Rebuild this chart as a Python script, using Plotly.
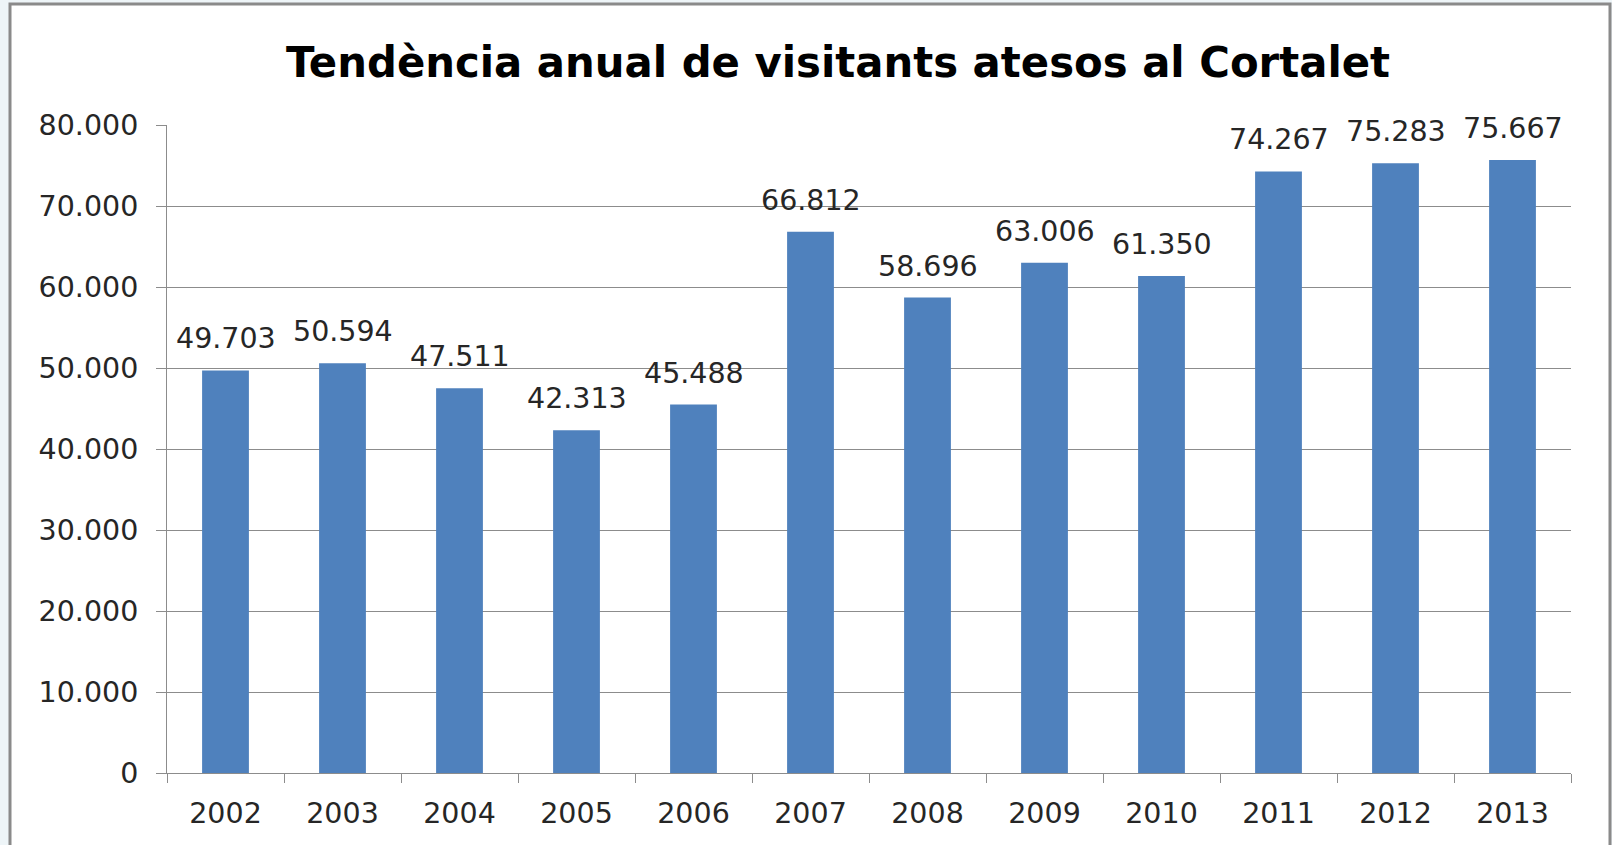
import plotly.graph_objects as go

years = ["2002", "2003", "2004", "2005", "2006", "2007", "2008", "2009", "2010", "2011", "2012", "2013"]
visitants = [49703, 50594, 47511, 42313, 45488, 66812, 58696, 63006, 61350, 74267, 75283, 75667]
ytick_vals = [0, 10000, 20000, 30000, 40000, 50000, 60000, 70000, 80000]
ytick_text = ["0", "10.000", "20.000", "30.000", "40.000", "50.000", "60.000", "70.000", "80.000"]
title_text = "Tendència anual de visitants atesos al Cortalet"

W, H = 1612, 845
L, R, T, B = 167, 41, 125, 72
pw, ph = W - L - R, H - T - B

def fmt(v):
    return f"{v:,}".replace(",", ".")

FONT = "DejaVu Sans"
TXT = "#262626"
GRID = "#8c8c8c"
FS = 28.5

fig = go.Figure()
fig.add_trace(go.Bar(
    x=years, y=visitants,
    marker=dict(color="#4F81BD", line=dict(width=0)),
    hoverinfo="skip",
))

for i, v in enumerate(visitants):
    fig.add_annotation(
        x=i, y=v, xref="x", yref="y",
        text=fmt(v), showarrow=False,
        yanchor="bottom", yshift=13,
        font=dict(family=FONT, size=FS, color=TXT),
    )

# chart frame (white box with grey border)
fig.add_shape(
    type="rect", xref="paper", yref="paper", layer="below",
    x0=(10 - L) / pw, x1=(1610 - L) / pw,
    y0=(H - B - (H + 20)) / ph, y1=(H - B - 4) / ph,
    fillcolor="white", line=dict(color="#8a8a8a", width=3),
)

fig.update_layout(
    width=W, height=H,
    margin=dict(l=L, r=R, t=T, b=B, autoexpand=False),
    paper_bgcolor="#eef5f8",
    plot_bgcolor="rgba(0,0,0,0)",
    bargap=0.6,
    showlegend=False,
    title=dict(
        text=title_text,
        x=838 / W, xanchor="center",
        y=1 - 62 / H, yanchor="middle",
        font=dict(family="DejaVu Sans", size=41.8, color="black", weight="bold"),
        automargin=False,
    ),
    font=dict(family=FONT, size=FS, color=TXT),
)

fig.update_xaxes(
    type="category",
    automargin=False,
    showgrid=False,
    showline=True, linecolor=GRID, linewidth=1,
    ticks="outside", tickson="boundaries", ticklen=9, tickcolor=GRID,
    tickfont=dict(family=FONT, size=FS, color=TXT),
    tickangle=0,
    ticklabelstandoff=15,
)
fig.update_yaxes(
    range=[0, 80000],
    automargin=False,
    tickvals=ytick_vals, ticktext=ytick_text,
    showgrid=True, gridcolor=GRID, gridwidth=1,
    showline=True, linecolor=GRID, linewidth=1,
    ticks="outside", ticklen=10, tickcolor=GRID,
    tickfont=dict(family=FONT, size=FS, color=TXT),
    ticklabelstandoff=12,
    zeroline=False,
)

fig.write_html(
    "out.html",
    config={"displayModeBar": False},
    post_script="document.body.style.margin='0';document.body.style.background='#eef5f8';document.body.style.overflow='hidden';",
)
